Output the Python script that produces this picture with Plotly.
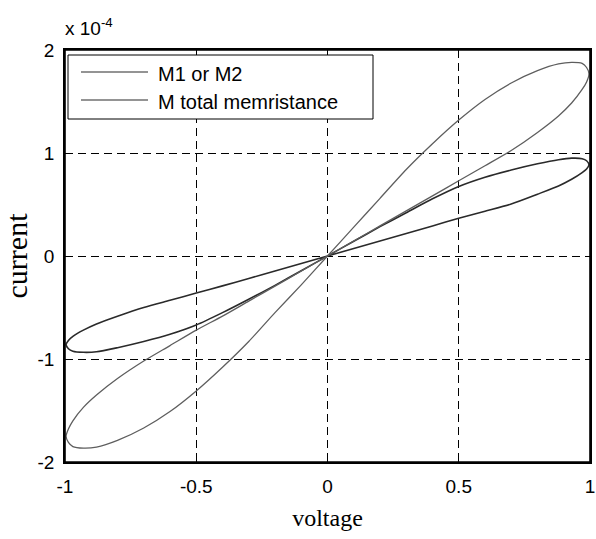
import plotly.graph_objects as go

# Voltage samples (V) along each closed loop
loop_voltage = [0, 0.1, 0.2, 0.3, 0.4, 0.5, 0.6, 0.7, 0.8, 0.88, 0.93, 0.97, 0.987, 0.996,
                0.987, 0.97, 0.93, 0.88, 0.8, 0.7, 0.6, 0.5, 0.4, 0.3, 0.2, 0.1, 0,
                -0.1, -0.2, -0.3, -0.4, -0.5, -0.6, -0.7, -0.8, -0.88, -0.93, -0.97, -0.987, -0.996,
                -0.987, -0.97, -0.93, -0.88, -0.8, -0.7, -0.6, -0.5, -0.4, -0.3, -0.2, -0.1, 0]

# Current (x 10^-4 A) for "M1 or M2"
m1_current = [0, 0.143, 0.285, 0.42, 0.555, 0.675, 0.765, 0.835, 0.895, 0.935, 0.95, 0.945, 0.925, 0.885,
              0.845, 0.81, 0.745, 0.68, 0.60, 0.505, 0.435, 0.366, 0.292, 0.218, 0.146, 0.073, 0,
              -0.073, -0.146, -0.218, -0.29, -0.36, -0.43, -0.50, -0.585, -0.66, -0.72, -0.78, -0.82, -0.86,
              -0.90, -0.925, -0.935, -0.93, -0.89, -0.83, -0.76, -0.67, -0.55, -0.42, -0.285, -0.143, 0]

# Current (x 10^-4 A) for "M total memristance"
mt_current = [0, 0.28, 0.56, 0.84, 1.09, 1.32, 1.52, 1.68, 1.80, 1.865, 1.88, 1.87, 1.83, 1.77,
              1.69, 1.617, 1.485, 1.36, 1.20, 1.025, 0.876, 0.73, 0.584, 0.438, 0.292, 0.146, 0,
              -0.146, -0.292, -0.438, -0.584, -0.72, -0.87, -1.02, -1.19, -1.35, -1.47, -1.60, -1.68, -1.75,
              -1.81, -1.85, -1.865, -1.855, -1.79, -1.67, -1.51, -1.31, -1.08, -0.83, -0.55, -0.28, 0]

series_names = ["M1 or M2", "M total memristance"]
x_ticks = [-1, -0.5, 0, 0.5, 1]
x_tick_labels = ["-1", "-0.5", "0", "0.5", "1"]
y_ticks = [-2, -1, 0, 1, 2]
y_tick_labels = ["-2", "-1", "0", "1", "2"]

W, H = 596, 539
ML, MR, MT, MB = 65, 6, 50, 77
PW, PH = W - ML - MR, H - MT - MB

def px_x(p):
    return (p - ML) / PW

def px_y(p):
    return (H - MB - p) / PH

SANS = "Liberation Sans, Arial, Helvetica, sans-serif"
SERIF = "Liberation Serif, Times New Roman, serif"
C_M1 = "#2a2a2a"
C_MT = "#5e5e5e"

fig = go.Figure()
fig.add_trace(go.Scatter(x=loop_voltage, y=m1_current, mode="lines", name=series_names[0],
                         line=dict(color=C_M1, width=1.6, shape="spline", smoothing=0.7)))
fig.add_trace(go.Scatter(x=loop_voltage, y=mt_current, mode="lines", name=series_names[1],
                         line=dict(color=C_MT, width=1.3, shape="spline", smoothing=0.7)))

axis_common = dict(
    showline=True, linecolor="black", linewidth=1.6, mirror="ticks",
    ticks="inside", ticklen=5, tickcolor="black", tickwidth=1,
    showgrid=True, gridcolor="black", gridwidth=1, griddash="8px,5px",
    zeroline=False, automargin=False, ticklabeloverflow="allow",
    tickfont=dict(family=SANS, size=19, color="black"),
)

fig.update_xaxes(range=[-1, 1], tickvals=x_ticks, ticktext=x_tick_labels,
                 ticklabelstandoff=6,
                 title=dict(text="voltage", font=dict(family=SERIF, size=24, color="black"), standoff=14),
                 **axis_common)
fig.update_yaxes(range=[-2, 2], tickvals=y_ticks, ticktext=y_tick_labels,
                 ticklabelstandoff=5,
                 title=dict(text="current", font=dict(family=SERIF, size=30, color="black"), standoff=10),
                 **axis_common)

shapes = [
    # axes frame
    dict(type="rect", xref="paper", yref="paper", x0=0, x1=1, y0=0, y1=1,
         line=dict(color="black", width=1.6), layer="above"),
    # legend box drawn in MATLAB style
    dict(type="rect", xref="paper", yref="paper", x0=px_x(68), x1=px_x(373), y0=px_y(119), y1=px_y(55),
         line=dict(color="black", width=1), fillcolor="white", layer="above"),
    dict(type="line", xref="paper", yref="paper", x0=px_x(81), x1=px_x(148), y0=px_y(72), y1=px_y(72),
         line=dict(color="#707070", width=1.3), layer="above"),
    dict(type="line", xref="paper", yref="paper", x0=px_x(81), x1=px_x(148), y0=px_y(100), y1=px_y(100),
         line=dict(color="#707070", width=1.3), layer="above"),
]
annotations = [
    dict(text=series_names[0], xref="paper", yref="paper", x=px_x(156), y=px_y(74), xanchor="left",
         yanchor="middle", showarrow=False, font=dict(family=SANS, size=20, color="black")),
    dict(text=series_names[1], xref="paper", yref="paper", x=px_x(156), y=px_y(102), xanchor="left",
         yanchor="middle", showarrow=False, font=dict(family=SANS, size=20, color="black")),
    dict(text="x 10<sup>-4</sup>", xref="paper", yref="paper", x=px_x(63), y=px_y(41), xanchor="left",
         yanchor="bottom", showarrow=False, font=dict(family=SANS, size=19, color="black")),
]

fig.update_layout(
    width=W, height=H, margin=dict(l=ML, r=MR, t=MT, b=MB),
    paper_bgcolor="white", plot_bgcolor="white",
    showlegend=False, shapes=shapes, annotations=annotations,
    hovermode=False,
)

fig.write_html("out.html", config={"displayModeBar": False},
               post_script="document.body.style.margin='0';document.body.style.overflow='hidden';")
